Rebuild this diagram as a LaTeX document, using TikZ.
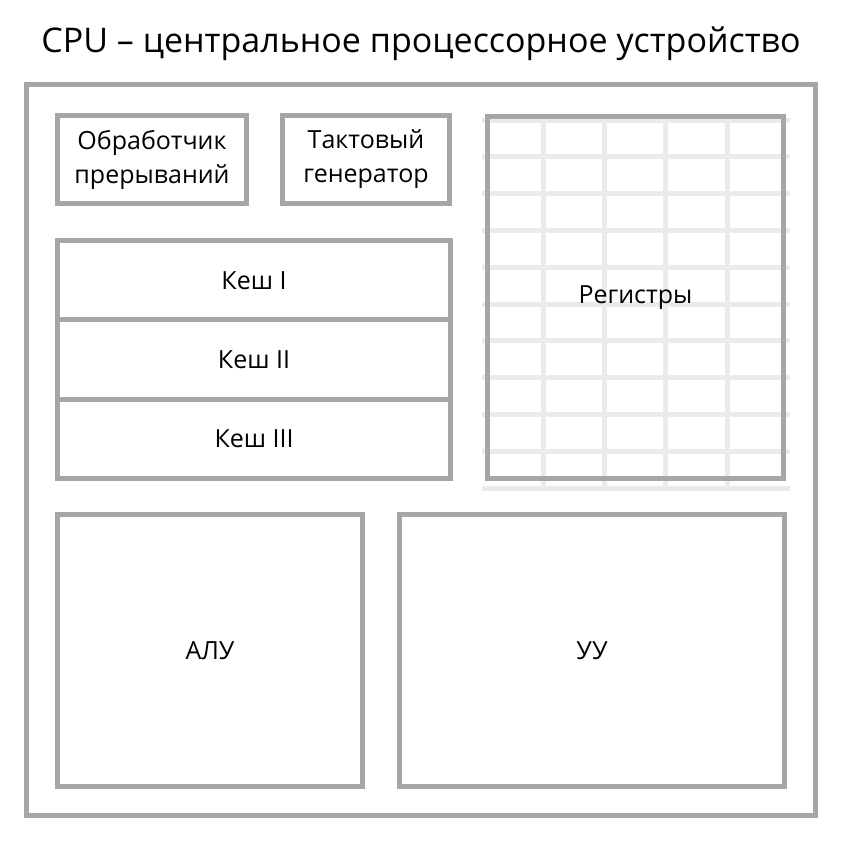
\documentclass[tikz,border=0pt]{standalone}
\usepackage{fontspec}
\setmainfont{Open Sans}
\definecolor{framegray}{HTML}{A6A6A6}
\definecolor{gridgray}{HTML}{EBEBEB}

\begin{document}
\begin{tikzpicture}[x=1pt,y=-1pt,
        unit/.style 2 args={draw=framegray, line width=5pt, inner sep=0pt,
            minimum width=#1, minimum height=#2, align=center,
            font=\fontsize{25}{34}\selectfont},
        gridline/.style={draw=gridgray, line width=5pt}]
    \useasboundingbox (0,0) rectangle (857,843);
    \node (title) at (421,44) {\fontsize{34}{40}\selectfont CPU – центральное процессорное устройство};
    \node[unit={789}{731}] (cpu) at (421,450) {};
    % register grid
    \begin{scope}
        \clip (482,117) rectangle (790,491);
        \foreach \i in {0,...,10}
            \draw[gridline] (482,120+36.8*\i) -- (790,120+36.8*\i);
        \foreach \x in {543,604,665,727}
            \draw[gridline] (\x,117) -- (\x,491);
    \end{scope}
    \node[unit={189}{88}] (irq) at (152,159.5) {Обработчик\\прерываний};
    \node[unit={167}{88}] (clk) at (366,159.5) {Тактовый\\генератор};
    \node[unit={393}{79.3}] (l1) at (254,280.2) {Кеш I};
    \node[unit={393}{79.3}] (l2) at (254,359.5) {Кеш II};
    \node[unit={393}{79.3}] (l3) at (254,438.8) {Кеш III};
    \node[unit={296}{362}] (regs) at (635.5,297.5) {Регистры};
    \node[unit={305}{272}] (alu) at (210,650.5) {АЛУ};
    \node[unit={385}{272}] (cu) at (592,650.5) {УУ};
\end{tikzpicture}
\end{document}
